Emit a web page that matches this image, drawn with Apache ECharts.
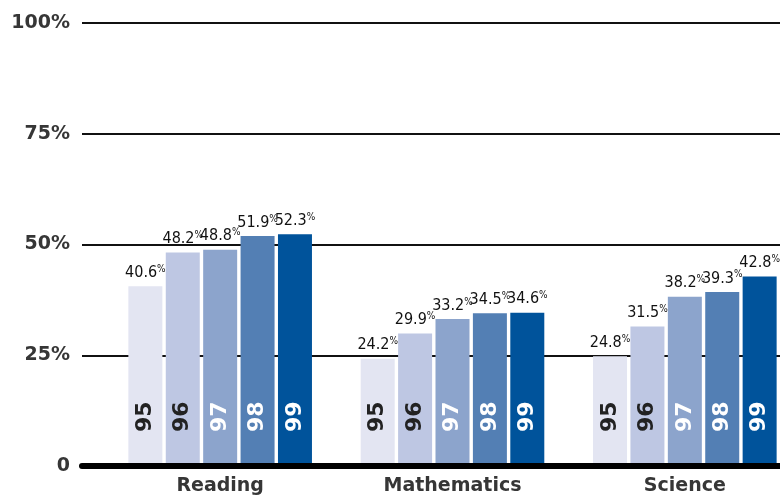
<!DOCTYPE html>
<html>
<head>
<meta charset="utf-8">
<script src="https://cdn.jsdelivr.net/npm/echarts@6/dist/echarts.min.js"></script>
<style>
  html, body { margin: 0; padding: 0; background: #fff; }
  #chart { width: 780px; height: 496px; }
</style>
</head>
<body>
<div id="chart"></div>
<script>
// Subjects and survey years
const categories = ['Reading', 'Mathematics', 'Science'];
const years = ['95', '96', '97', '98', '99'];

// Percent per subject, one array per year
const y95 = [40.6, 24.2, 24.8];
const y96 = [48.2, 29.9, 31.5];
const y97 = [48.8, 33.2, 38.2];
const y98 = [51.9, 34.5, 39.3];
const y99 = [52.3, 34.6, 42.8];
const yearValues = [y95, y96, y97, y98, y99];

// Value-axis ticks
const yTicks = [0, 25, 50, 75, 100];
const yTickLabels = ['0', '25%', '50%', '75%', '100%'];

const barColors = ['#e3e5f2', '#bec7e3', '#8ca4cc', '#537fb4', '#00539b'];
const yearTextColors = ['#222', '#222', '#fff', '#fff', '#fff'];

const axisFont = { fontFamily: 'DejaVu Sans', fontWeight: 'bold', fontSize: 19, color: '#363636' };
const narrowFont = "'DejaVu Sans Condensed', 'Liberation Sans', sans-serif";

const chart = echarts.init(document.getElementById('chart'), null, { renderer: 'canvas' });

const barCommon = { type: 'bar', xAxisIndex: 1, yAxisIndex: 1, barWidth: 34, barGap: '10%' };

const series = [];
years.forEach((yr, i) => {
  // the bar itself, with the rotated year inside near its foot
  series.push(Object.assign({}, barCommon, {
    name: yr,
    stack: 's' + i,
    data: yearValues[i],
    itemStyle: { color: barColors[i] },
    label: {
      show: true,
      position: 'insideBottom',
      distance: 34,
      rotate: 90,
      align: 'left',
      verticalAlign: 'middle',
      formatter: yr,
      color: yearTextColors[i],
      fontFamily: 'DejaVu Sans',
      fontWeight: 'bold',
      fontSize: 22
    }
  }));
  // zero-height cap carrying the percentage label above the bar
  series.push(Object.assign({}, barCommon, {
    name: yr + ' value',
    stack: 's' + i,
    data: yearValues[i].map(() => 0),
    itemStyle: { color: 'transparent' },
    label: {
      show: true,
      position: 'top',
      distance: 5,
      formatter: p => '{v|' + yearValues[i][p.dataIndex].toFixed(1) + '}{p|%}',
      rich: {
        v: { fontFamily: narrowFont, fontSize: 16, color: '#111', lineHeight: 17 },
        p: { fontFamily: narrowFont, fontSize: 10, color: '#111', verticalAlign: 'top', lineHeight: 17, padding: [0, 0, 6, 0] }
      }
    }
  }));
});

const option = {
  animation: false,
  grid: [
    { left: 82, right: 0, top: 23, bottom: 30, outerBoundsMode: 'none' },
    { left: 104, width: 697, top: 23, bottom: 30, outerBoundsMode: 'none' }
  ],
  xAxis: [
    {
      gridIndex: 0, type: 'value', min: 0, max: 1, z: 3,
      axisLine: { show: true, lineStyle: { color: '#000', width: 6 } },
      axisTick: { show: false }, axisLabel: { show: false }, splitLine: { show: false }
    },
    {
      gridIndex: 1, type: 'category', data: categories,
      axisLine: { show: false }, axisTick: { show: false },
      axisLabel: Object.assign({ margin: 11 }, axisFont)
    }
  ],
  yAxis: [
    {
      gridIndex: 0, type: 'value', min: yTicks[0], max: yTicks[yTicks.length - 1], interval: 25,
      axisLine: { show: false }, axisTick: { show: false },
      axisLabel: Object.assign({
        margin: 12,
        formatter: v => yTickLabels[yTicks.indexOf(v)]
      }, axisFont),
      splitLine: { show: true, lineStyle: { color: '#111', width: 2 } }
    },
    { gridIndex: 1, type: 'value', min: 0, max: 100, show: false }
  ],
  series: series
};

chart.setOption(option);
</script>
</body>
</html>
